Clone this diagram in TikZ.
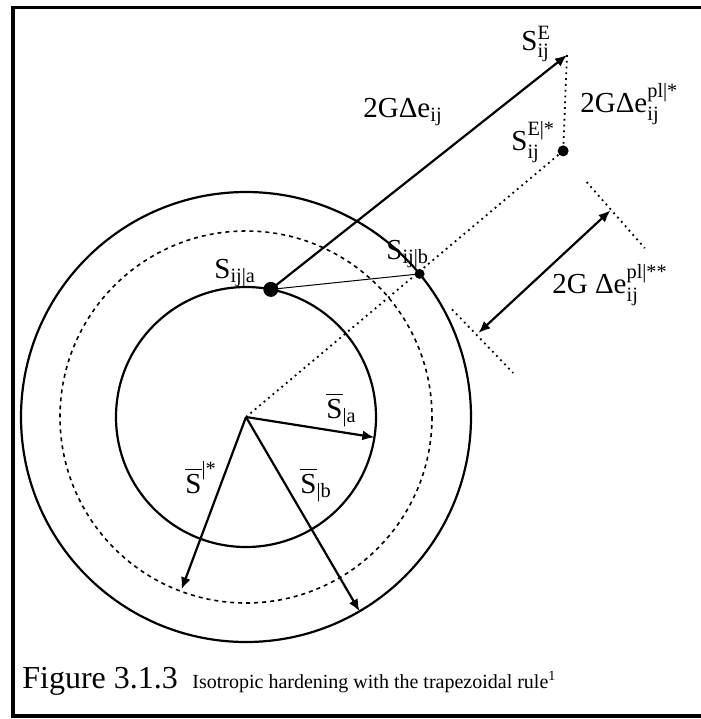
\documentclass[tikz,border=0pt]{standalone}
\usepackage{amsmath}
\usepackage{fontspec}
\setmainfont{Liberation Serif}
\usetikzlibrary{arrows.meta, calc, positioning}

\begin{document}
\begin{tikzpicture}[
    x=0.5pt, y=-0.5pt,
    lbl/.style={font=\fontsize{14.5}{16}\selectfont, inner sep=0pt, anchor=base west},
    yield/.style={draw, line width=1.1pt},
    trial/.style={draw, line width=0.8pt, dash pattern=on 2pt off 2pt},
    guide/.style={draw, line width=0.9pt, dotted},
    vec/.style={draw, line width=1.1pt, -{Latex[length=6pt,width=5pt]}},
    dimline/.style={draw, line width=1.1pt, {Latex[length=6pt,width=5pt]}-{Latex[length=6pt,width=5pt]}},
    pt/.style={circle, fill, inner sep=0pt}
]

\useasboundingbox (0,0) rectangle (701,719);
\draw[line width=1.6pt] (13,7.5) rectangle (704,716);

\coordinate (c) at (246,417);
\path[yield] (c) circle [radius=130];
\path[yield] (c) circle [radius=225];
\path[trial] (c) circle [radius=186];

\node[pt, minimum size=7.5pt] (sa) at ($(c)+(-79:130)$) {};
\node[pt, minimum size=5pt] (sb) at ($(c)+(-39.5:225)$) {};
\node[pt, minimum size=5.5pt] (sestar) at ($(c)+(-40:414)$) {};
\coordinate (se) at (567,55);

\coordinate (ra) at ($(c)+(9:130)$);
\coordinate (rstar) at ($(c)+(110.5:184)$);
\coordinate (rb) at ($(c)+(59.7:225)$);

\coordinate (d1) at ($(c)+(-40:232)+(50:85)$);
\coordinate (d2) at ($(c)+(-40:412)+(50:76)$);
\coordinate (t1a) at ($(c)+(-40:227)+(50:50)$);
\coordinate (t1b) at ($(c)+(-40:233)+(50:138)$);
\coordinate (t2a) at ($(c)+(-40:412)+(50:39)$);
\coordinate (t2b) at ($(c)+(-40:414)+(50:127)$);

\path[guide] (c) -- (sestar.center);
\path[guide] (se) -- (sestar.center);
\path[guide] (t1a) -- (t1b);
\path[guide] (t2a) -- (t2b);
\path[draw, line width=0.5pt] (sa.center) -- (sb.center);
\path[vec] (sa.center) -- (se);
\path[vec] (c) -- (ra);
\path[vec] (c) -- (rstar);
\path[vec] (c) -- (rb);
\path[dimline] (d1) -- (d2);

\node[lbl] (lse) at (521,50) {S$^{\text{E}}_{\text{ij}}$};
\node[lbl] (lde) at (363,117) {2GΔe$_{\text{ij}}$};
\node[lbl] (ldepl) at (580,112) {2GΔe$^{\text{pl|*}}_{\text{ij}}$};
\node[lbl] (lsestar) at (511,150) {S$^{\text{E|*}}_{\text{ij}}$};
\node[lbl] (lsa) at (214,278) {S$_{\text{ij|a}}$};
\node[lbl] (lsb) at (386,259) {S$_{\text{ij|b}}$};
\node[lbl] (ldepl2) at (552,293) {2G Δe$^{\text{pl|**}}_{\text{ij}}$};
\node[lbl] (lra) at (326,418) {$\overline{\text{S}}_{\text{|a}}$};
\node[lbl] (lrstar) at (185,493) {$\overline{\text{S}}^{\text{|*}}$};
\node[lbl] (lrb) at (300,493) {$\overline{\text{S}}_{\text{|b}}$};

\node[lbl, font=\fontsize{16}{18}\selectfont] (fig) at (22,688) {Figure 3.1.3};
\node[lbl, font=\fontsize{10}{12}\selectfont] (cap) at (192,688) {Isotropic hardening with the trapezoidal rule\textsuperscript{1}};

\end{tikzpicture}
\end{document}
